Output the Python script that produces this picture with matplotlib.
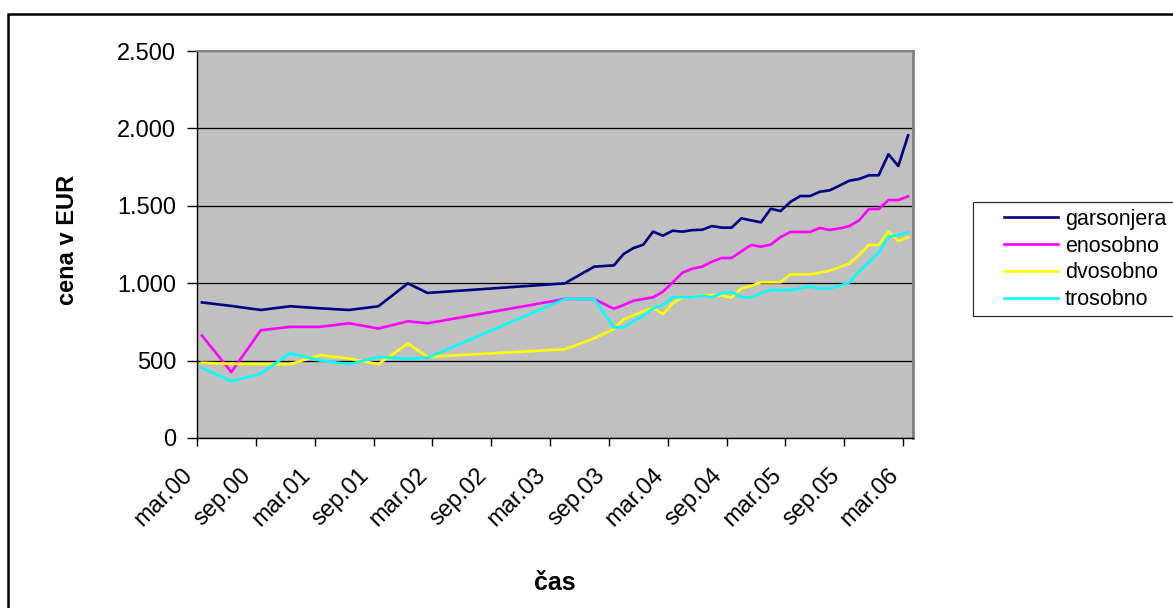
import matplotlib
matplotlib.use('Agg')
import matplotlib.pyplot as plt
import pandas as pd
from matplotlib.patches import Rectangle
from matplotlib.transforms import ScaledTranslation

plt.rcParams['font.family'] = ['Liberation Sans', 'DejaVu Sans']

# months with a price record (average price per m2, EUR)
dates = ['2000-03', '2000-06', '2000-09', '2000-12', '2001-03', '2001-06',
         '2001-09', '2001-12', '2002-02', '2003-04'] + \
        [str(p) for p in pd.period_range('2003-07', '2006-03', freq='M')]

garsonjera = [876, 853, 827, 851, 838, 827, 851, 999, 937, 999,
              1107, 1111, 1115, 1189, 1227, 1249, 1333, 1307, 1339, 1333,
              1343, 1345, 1369, 1359, 1359, 1419, 1406, 1393, 1481, 1466,
              1525, 1563, 1563, 1591, 1600, 1630, 1662, 1673, 1697, 1697,
              1833, 1757, 1955]
enosobno = [662, 426, 696, 718, 718, 741, 707, 754, 741, 898,
            898, 866, 835, 859, 887, 898, 909, 945, 1005, 1068,
            1094, 1107, 1139, 1163, 1163, 1206, 1247, 1236, 1249, 1298,
            1331, 1331, 1331, 1357, 1344, 1354, 1369, 1406, 1479, 1479,
            1537, 1537, 1561]
dvosobno = [486, 479, 477, 477, 535, 514, 477, 610, 524, 573,
            644, 674, 704, 766, 794, 818, 841, 801, 870, 909,
            909, 922, 924, 920, 907, 967, 982, 1006, 1006, 1006,
            1057, 1057, 1057, 1068, 1081, 1103, 1126, 1182, 1247, 1247,
            1333, 1272, 1296]
trosobno = [453, 367, 415, 548, 501, 477, 524, 511, 518, 898,
            898, 807, 715, 715, 756, 788, 838, 859, 909, 909,
            909, 920, 909, 935, 943, 909, 907, 935, 956, 956,
            956, 967, 978, 967, 967, 984, 1003, 1077, 1135, 1199,
            1300, 1311, 1329]

series = [('garsonjera', garsonjera, '#000080'),
          ('enosobno', enosobno, '#FF00FF'),
          ('dvosobno', dvosobno, '#FFFF00'),
          ('trosobno', trosobno, '#00FFFF')]

tick_labels = ['mar.00', 'sep.00', 'mar.01', 'sep.01', 'mar.02', 'sep.02',
               'mar.03', 'sep.03', 'mar.04', 'sep.04', 'mar.05', 'sep.05',
               'mar.06']

# month offset from March 2000, point drawn in the middle of its month
start = pd.Period('2000-03', freq='M')
x = [(pd.Period(d, freq='M') - start).n + 0.5 for d in dates]

W, H = 1173, 608
fig = plt.figure(figsize=(W / 100, H / 100), dpi=100)
ax = fig.add_axes([197 / W, (H - 438) / H, 716 / W, 387 / H])
ax.set_facecolor('#C0C0C0')

for name, vals, col in series:
    ax.plot(x, vals, color=col, lw=1.9, label=name)

ax.set_xlim(0, 73)
ax.set_ylim(0, 2500)
ax.set_yticks(range(0, 2501, 500))
ax.set_yticklabels([f'{v:,}'.replace(',', '.') for v in range(0, 2501, 500)],
                   fontsize=17)
ax.set_xticks(range(0, 73, 6))
ax.set_xticklabels(tick_labels, fontsize=17, rotation=45, ha='right', va='top')
shift = ScaledTranslation(-15 / 100, 0, fig.dpi_scale_trans)
for lab in ax.get_xticklabels():
    lab.set_transform(lab.get_transform() + shift)

ax.grid(axis='y', color='black', lw=0.9)
ax.set_axisbelow(True)
ax.tick_params(axis='y', direction='out', length=7, width=1, pad=8)
ax.tick_params(axis='x', direction='out', length=6, width=1, pad=13)

for side in ('left', 'bottom'):
    ax.spines[side].set_color('black')
    ax.spines[side].set_linewidth(1)
ax.spines['top'].set_color('#808080')
ax.spines['top'].set_linewidth(1.5)
ax.spines['right'].set_color('#808080')
ax.spines['right'].set_linewidth(2)

ax.set_ylabel('cena v EUR', fontsize=17, fontweight='bold', va='center')
ax.yaxis.set_label_coords((67 - 197) / 716, (438 - 240) / 387)
ax.set_xlabel('čas', fontsize=18, fontweight='bold', va='baseline')
ax.xaxis.set_label_coords(0.5, (438 - 590) / 387)

leg = ax.legend(loc='upper left', bbox_to_anchor=(993 / W, 1 - 198 / H),
                bbox_transform=fig.transFigure, frameon=False, fontsize=15.5,
                borderpad=0, handlelength=2.5, handletextpad=0.35,
                labelspacing=0.27)

# legend box and chart frame run off the page edge
fig.add_artist(Rectangle((973 / W, 1 - 316 / H), 0.3, 114 / H,
                         transform=fig.transFigure, fill=False,
                         edgecolor='#303030', lw=0.9))
fig.add_artist(Rectangle((8 / W, -0.5), 2, 1.5 - 14 / H,
                         transform=fig.transFigure, fill=False,
                         edgecolor='black', lw=1.8))

fig.savefig('out.png', dpi=100)
